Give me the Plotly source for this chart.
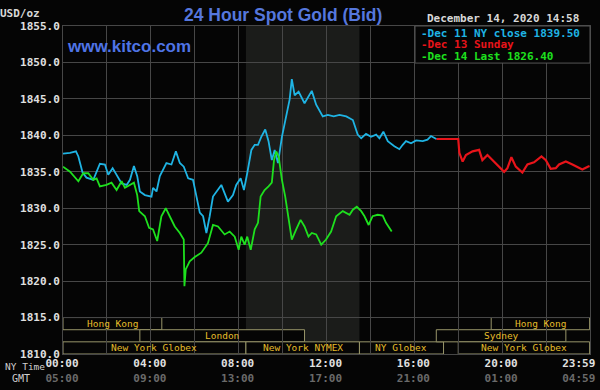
import plotly.graph_objects as go

# ---------------- data ----------------
cyan_t = [0, 0.32, 0.59, 0.7, 0.89, 1.07, 1.38, 1.68, 1.91, 2.06, 2.26, 2.44, 2.67, 2.9, 3.05, 3.23,
          3.38, 3.5, 3.73, 4.03, 4.1, 4.26, 4.41, 4.71, 4.94, 5.14, 5.32, 5.5, 5.7, 5.92, 6.08, 6.23,
          6.38, 6.53, 6.68, 6.83, 7.21, 7.51, 7.74, 7.89, 8.09, 8.24, 8.39, 8.58, 8.73, 8.88, 9.03,
          9.21, 9.36, 9.51, 9.64, 9.79, 9.97, 10.17, 10.32, 10.42, 10.55, 10.73, 11.0, 11.33, 11.53,
          11.83, 12.06, 12.33, 12.59, 12.9, 13.2, 13.42, 13.58, 13.8, 14.03, 14.26, 14.41, 14.59,
          14.79, 15.09, 15.32, 15.47, 15.62, 15.85, 16.08, 16.38, 16.6, 16.76, 17.0]
cyan_v = [1837.5, 1837.6, 1837.8, 1837.1, 1834.9, 1834.2, 1833.9, 1836.1, 1836.0, 1834.6, 1835.5,
          1834.6, 1833.4, 1833.2, 1833.9, 1835.8, 1834.4, 1832.3, 1831.8, 1831.6, 1832.8, 1832.3,
          1834.4, 1836.2, 1836.0, 1837.8, 1836.2, 1835.7, 1834.1, 1833.9, 1831.6, 1829.4, 1828.9,
          1826.6, 1828.9, 1831.6, 1833.2, 1830.9, 1831.8, 1833.2, 1834.1, 1832.5, 1834.8, 1838.0,
          1838.7, 1838.7, 1839.8, 1840.8, 1839.2, 1836.6, 1838.0, 1836.2, 1839.8, 1842.6, 1844.9,
          1847.7, 1845.5, 1846.0, 1844.4, 1846.1, 1844.2, 1842.6, 1842.8, 1842.6, 1842.8, 1842.6,
          1842.1, 1840.1, 1839.6, 1840.2, 1839.8, 1840.1, 1839.6, 1840.5, 1839.2, 1838.5, 1838.1,
          1838.7, 1839.2, 1838.9, 1839.3, 1839.2, 1839.4, 1839.9, 1839.5]

red_t = [17.0, 18.0, 18.05, 18.2, 18.35, 18.65, 18.95, 19.1, 19.33, 19.56, 19.86, 20.09, 20.24,
         20.42, 20.62, 20.92, 21.15, 21.45, 21.79, 21.99, 22.21, 22.44, 22.59, 22.9, 23.2, 23.43,
         23.65, 23.9, 23.98]
red_v = [1839.5, 1839.5, 1837.6, 1836.4, 1837.3, 1837.8, 1838.0, 1836.6, 1837.3, 1836.6, 1835.7,
         1835.0, 1835.5, 1837.0, 1835.7, 1834.9, 1836.0, 1836.3, 1837.1, 1836.6, 1835.4, 1835.5,
         1836.0, 1836.4, 1836.0, 1835.7, 1835.3, 1835.7, 1835.8]

green_t = [0, 0.32, 0.7, 0.92, 1.15, 1.38, 1.53, 1.68, 1.98, 2.21, 2.44, 2.67, 2.82, 3.05, 3.23,
           3.38, 3.47, 3.73, 3.92, 4.1, 4.29, 4.48, 4.68, 4.86, 5.09, 5.32, 5.5, 5.53, 5.59, 5.77,
           6.0, 6.3, 6.6, 6.83, 7.06, 7.36, 7.59, 7.82, 8.0, 8.12, 8.27, 8.39, 8.55, 8.73, 8.88,
           9.0, 9.18, 9.36, 9.51, 9.61, 9.71, 9.82, 9.97, 10.12, 10.27, 10.42, 10.62, 10.82, 11.0,
           11.18, 11.33, 11.53, 11.76, 11.98, 12.21, 12.44, 12.74, 13.05, 13.2, 13.38, 13.58,
           13.73, 13.92, 14.1, 14.33, 14.56, 14.71, 14.97]
green_v = [1835.7, 1835.0, 1833.7, 1834.8, 1834.8, 1833.9, 1834.1, 1833.0, 1833.2, 1833.5, 1832.5,
           1833.7, 1832.8, 1833.2, 1833.5, 1831.8, 1829.6, 1828.9, 1827.3, 1827.1, 1825.5, 1828.9,
           1830.0, 1828.9, 1827.5, 1826.6, 1825.7, 1819.3, 1821.6, 1822.7, 1823.3, 1823.9, 1825.2,
           1827.7, 1827.5, 1826.4, 1826.8, 1826.1, 1824.3, 1826.1, 1825.0, 1826.1, 1824.3, 1827.1,
           1828.0, 1831.6, 1832.5, 1833.0, 1833.5, 1836.6, 1837.8, 1837.1, 1833.9, 1831.6, 1828.9,
           1825.7, 1827.1, 1828.4, 1827.5, 1826.1, 1826.6, 1826.4, 1825.0, 1825.7, 1826.8, 1828.9,
           1829.6, 1829.1, 1829.8, 1830.2, 1829.6, 1828.9, 1827.7, 1828.9, 1829.1, 1829.0, 1828.0,
           1826.8]

legend_lines = ["-Dec 11 NY close 1839.50", "-Dec 13 Sunday", "-Dec 14 Last 1826.40"]

ny_ticks = [0, 2, 4, 6, 8, 10, 12, 14, 16, 18, 20, 22, 23.983]
ny_labels = ["00:00", "", "04:00", "", "08:00", "", "12:00", "", "16:00", "", "20:00", "", "23:59"]
gmt_labels = ["05:00", "", "09:00", "", "13:00", "", "17:00", "", "21:00", "", "01:00", "", "04:59"]
y_ticks = [1810, 1815, 1820, 1825, 1830, 1835, 1840, 1845, 1850, 1855]

nymex_start, nymex_end = 8.33, 13.5
session_names = ["Hong Kong", "London", "New York Globex", "New York NYMEX", "NY Globex",
                 "Hong Kong", "Sydney", "New York Globex"]
session_start = [0, 3.5, 0, 8.33, 13.5, 19.5, 17.0, 18.0]
session_end = [4.5, 11.0, 8.33, 13.5, 17.33, 23.983, 22.9, 23.983]
session_row = [0, 1, 2, 2, 2, 0, 1, 2]

# ---------------- styles ----------------
CYAN = "#1fb4e4"
RED = "#e8141a"
GREEN = "#1ee01e"
GRID = "#474747"
MONO = "DejaVu Sans Mono"
BOX_LINE = "#99966a"
BOX_TEXT = "#e6bd2a"
row_bounds = [(1813.33, 1815.0), (1811.67, 1813.33), (1810.0, 1811.67)]

fig = go.Figure()
fig.add_trace(go.Scatter(x=red_t, y=red_v, mode="lines", line=dict(color=RED, width=2.2),
                         hoverinfo="skip"))
fig.add_trace(go.Scatter(x=cyan_t, y=cyan_v, mode="lines", line=dict(color=CYAN, width=1.8),
                         hoverinfo="skip"))
fig.add_trace(go.Scatter(x=green_t, y=green_v, mode="lines", line=dict(color=GREEN, width=1.8),
                         hoverinfo="skip"))

shapes = [dict(type="rect", xref="x", yref="paper", x0=nymex_start, x1=nymex_end, y0=0, y1=1,
               fillcolor="#1b1c1a", line=dict(width=0), layer="below")]
annotations = []
for name, s, e, r in zip(session_names, session_start, session_end, session_row):
    y0, y1 = row_bounds[r]
    shapes.append(dict(type="rect", xref="x", yref="y", x0=s, x1=e, y0=y0, y1=y1,
                       fillcolor="#050505", line=dict(color=BOX_LINE, width=1), layer="below"))
    annotations.append(dict(x=(s + e) / 2, y=(y0 + y1) / 2, xref="x", yref="y", text=name,
                            showarrow=False, font=dict(family=MONO, size=9.5, color=BOX_TEXT),
                            xanchor="center", yanchor="middle"))

# legend box
shapes.append(dict(type="rect", xref="paper", yref="paper", x0=0.668, x1=1.0, y0=0.887, y1=1.0,
                   fillcolor="#050505", line=dict(color="#555555", width=1), layer="above"))
for i, (txt, col) in enumerate(zip(legend_lines, [CYAN, RED, GREEN])):
    annotations.append(dict(x=0.676, y=0.978 - i * 0.0355, xref="paper", yref="paper", text=txt,
                            showarrow=False, xanchor="left", yanchor="middle",
                            font=dict(family=MONO, size=11, color=col, weight="bold")))

annotations += [
    dict(x=0.418, y=1.0, xref="paper", yref="paper", yshift=11, text="24 Hour Spot Gold (Bid)",
         showarrow=False, xanchor="center", yanchor="middle",
         font=dict(family="Liberation Sans", size=17.5, color="#5577dd", weight="bold")),
    dict(x=0.004, y=0.937, xref="paper", yref="paper", text="www.kitco.com", showarrow=False,
         xanchor="left", yanchor="middle",
         font=dict(family="Liberation Sans", size=17, color="#4f74e6", weight="bold")),
    dict(x=0.835, y=1.0, xref="paper", yref="paper", yshift=8, text="December 14, 2020 14:58",
         showarrow=False, xanchor="center", yanchor="middle",
         font=dict(family=MONO, size=11, color="#d8d8d8", weight="bold")),
    dict(x=-0.081, y=1.0, xref="paper", yref="paper", yshift=13, text="USD/oz", showarrow=False,
         xanchor="center", yanchor="middle",
         font=dict(family=MONO, size=11, color="#d8d8d8", weight="bold")),
    dict(x=-0.114, y=0.0, xref="paper", yref="paper", yshift=-12, text="NY Time", showarrow=False,
         xanchor="left", yanchor="middle",
         font=dict(family=MONO, size=9.5, color="#d0d0d0")),
    dict(x=-0.1, y=0.0, xref="paper", yref="paper", yshift=-24, text="GMT", showarrow=False,
         xanchor="left", yanchor="middle",
         font=dict(family=MONO, size=10, color="#d0d0d0")),
]

tick_text = []
for a, b in zip(ny_labels, gmt_labels):
    if not a:
        tick_text.append("")
        continue
    pad = "&nbsp;&nbsp;&nbsp;" if a == ny_labels[-1] else ""
    tick_text.append(f"{a}{pad}<br><span style='color:#6a6a6a'>{b}{pad}</span>")

fig.update_layout(
    width=600, height=390,
    margin=dict(l=63, r=10, t=26, b=36),
    paper_bgcolor="#050505", plot_bgcolor="#050505",
    showlegend=False,
    shapes=shapes, annotations=annotations,
    xaxis=dict(range=[0, 24], tickvals=ny_ticks, ticktext=tick_text, showgrid=True,
               gridcolor=GRID, gridwidth=1, zeroline=False, showline=True, linecolor=GRID,
               mirror=True, ticks="", automargin=False, ticklabelshift=-1,
               ticklabelstandoff=-1, ticklabeloverflow="allow",
               tickfont=dict(family=MONO, size=11, color="#e0e0e0", weight="bold")),
    yaxis=dict(range=[1810, 1855], tickvals=y_ticks, tickformat=".1f", showgrid=True,
               gridcolor=GRID, gridwidth=1, zeroline=False, showline=True, linecolor=GRID,
               mirror=True, ticks="", automargin=False,
               tickfont=dict(family=MONO, size=11, color="#e0e0e0", weight="bold")),
)

fig.write_html("out.html", config={"displayModeBar": False},
               post_script="document.body.style.margin='0';"
                           "document.body.style.background='#050505';")
